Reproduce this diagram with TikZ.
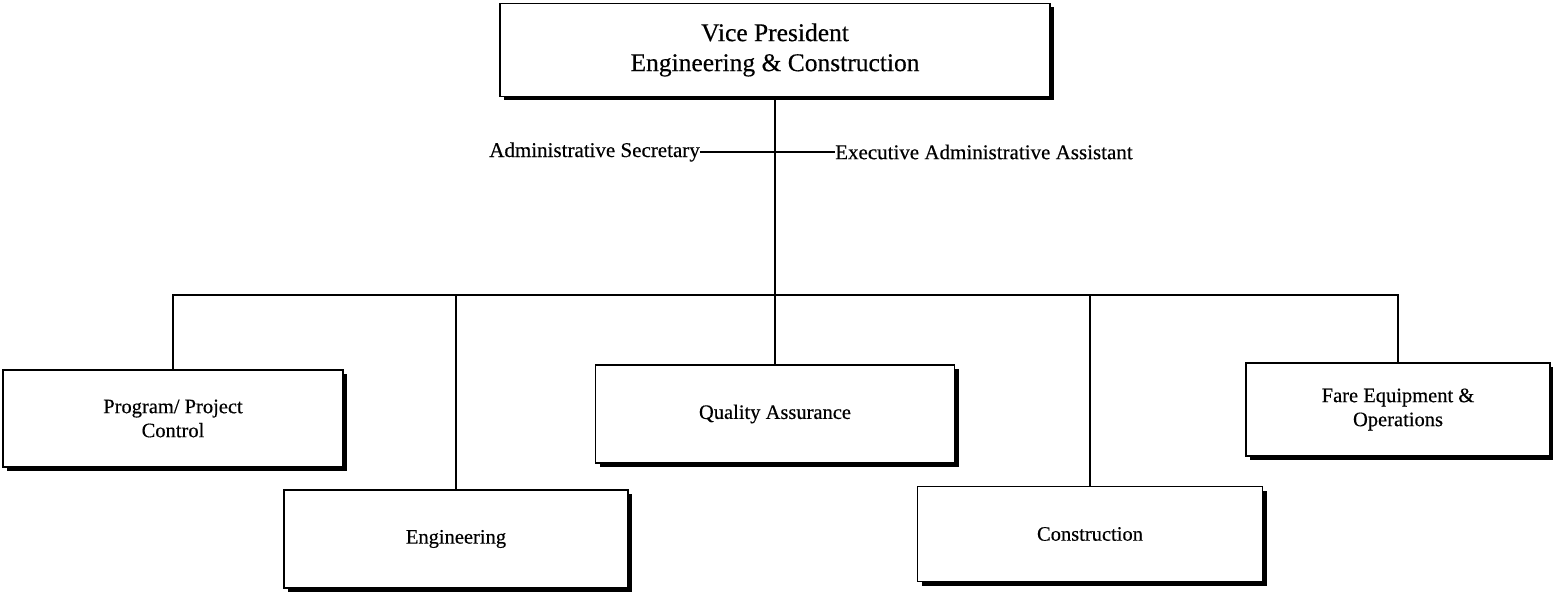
\documentclass[tikz,border=0pt]{standalone}
\usepackage{fontspec}
\setmainfont{Liberation Serif}[FakeBold=0.4]
\usetikzlibrary{shadows}
\begin{document}
\begin{tikzpicture}[x=1pt,y=-1pt,
  orgbox/.style={draw=black, line width=1.8pt, fill=white, rectangle, inner sep=0pt,
    align=center, font=\fontsize{20.5}{24}\selectfont,
    drop shadow={shadow xshift=4pt, shadow yshift=-4pt, fill=black, opacity=1}},
  topbox/.style={orgbox, font=\fontsize{25.5}{30}\selectfont},
  lbl/.style={inner sep=0pt, font=\fontsize{21}{24}\selectfont},
  conn/.style={line width=2.5pt, line join=miter}]
\useasboundingbox (0,0) rectangle (1553,593);

\node[topbox, minimum width=550pt, minimum height=93pt] (vp) at (775,50) {Vice President\\Engineering \& Construction};

\node[lbl, anchor=east] (sec) at (700,152) {Administrative Secretary};
\node[lbl, anchor=west] (exe) at (835,152) {Executive Administrative Assistant};

\node[orgbox, minimum width=340pt, minimum height=97pt] (prog) at (173,418.5) {Program/ Project\\Control};
\node[orgbox, minimum width=344pt, minimum height=98pt] (eng) at (456,539) {Engineering};
\node[orgbox, minimum width=359pt, minimum height=98pt] (qa) at (775,414) {Quality Assurance};
\node[orgbox, minimum width=345pt, minimum height=95pt] (con) at (1090,534) {Construction};
\node[orgbox, minimum width=304pt, minimum height=93pt] (fare) at (1398,409.5) {Fare Equipment \&\\Operations};

\coordinate (busR) at (1398,295);

\draw[conn] (sec.east) -- (exe.west);
\draw[conn] (vp.south) -- (qa.north);
\draw[conn] (prog.north) |- (busR) -- (fare.north);
\draw[conn] (eng.north) -- (eng.north |- busR);
\draw[conn] (con.north) -- (con.north |- busR);
\end{tikzpicture}
\end{document}
